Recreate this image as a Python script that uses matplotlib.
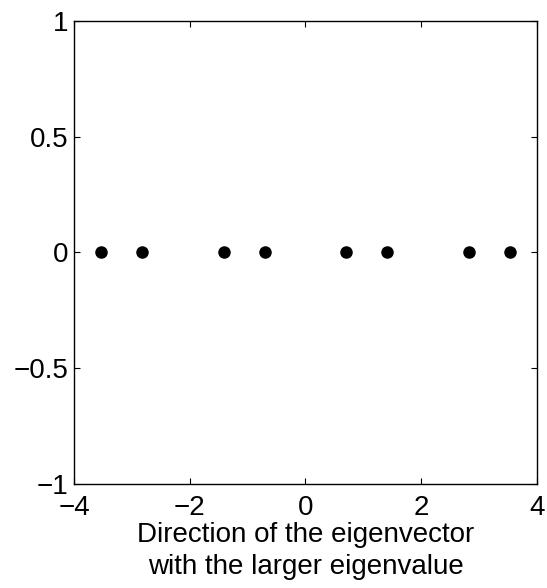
import numpy as np
import matplotlib.pyplot as plt

plt.rcParams['font.family'] = ['Liberation Sans', 'DejaVu Sans']

# projections onto the principal direction
x_vals = [-3.536, -2.828, -1.414, -0.707, 0.707, 1.414, 2.828, 3.536]
y_vals = [0, 0, 0, 0, 0, 0, 0, 0]
x_ticks = [-4, -2, 0, 2, 4]
y_ticks = [-1, -0.5, 0, 0.5, 1]
xlabel = "Direction of the eigenvector\nwith the larger eigenvalue"

fig = plt.figure(figsize=(5.47, 5.88), dpi=100)
ax = fig.add_axes([0.1353, 0.1769, 0.8464, 0.7879])

ax.plot(x_vals, y_vals, 'o', color='black', markersize=8)

ax.set_xlim(-4, 4)
ax.set_ylim(-1, 1)
ax.set_xticks(x_ticks)
ax.set_yticks(y_ticks)
ax.set_xticklabels([str(t).replace('-', '\u2212') for t in x_ticks])
ax.set_yticklabels([('%g' % t).replace('-', '\u2212') for t in y_ticks])
ax.tick_params(direction='in', top=True, right=True, length=4, width=0.8,
               labelsize=20)
ax.tick_params(axis='x', pad=8)
ax.tick_params(axis='y', pad=4)
for s in ax.spines.values():
    s.set_linewidth(1)
ax.set_xlabel(xlabel, fontsize=20, labelpad=1, linespacing=1.3)

fig.savefig('out.png', dpi=100)
